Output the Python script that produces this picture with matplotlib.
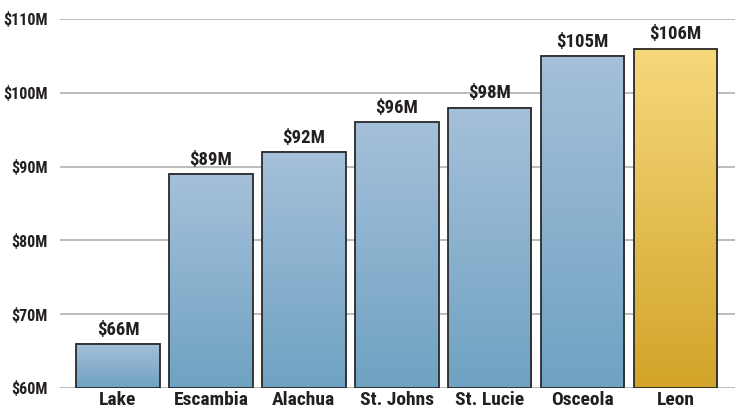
import numpy as np
import matplotlib.pyplot as plt
from matplotlib.colors import LinearSegmentedColormap

# ---------------------------------------------------------------------------
# Data
# ---------------------------------------------------------------------------

counties = ["Lake", "Escambia", "Alachua", "St. Johns", "St. Lucie", "Osceola", "Leon"]
values = [66, 89, 92, 96, 98, 105, 106]        # $ millions
highlight = "Leon"
y_ticks = [60, 70, 80, 90, 100, 110]

# ---------------------------------------------------------------------------
# Style
# ---------------------------------------------------------------------------

plt.rcParams["font.family"] = ["Roboto Condensed", "DejaVu Sans"]
plt.rcParams["font.weight"] = "bold"

TEXT = "#231f20"
blue_cmap = LinearSegmentedColormap.from_list("blue", ["#6fa2c2", "#a5c0da"])
gold_cmap = LinearSegmentedColormap.from_list("gold", ["#d2a429", "#f6d87c"])

fig = plt.figure(figsize=(7.39, 4.15), dpi=100)
ax = fig.add_axes([60 / 739, 27 / 415, 675 / 739, 369 / 415])

ymin, ymax = 60, 110
x = np.arange(len(counties))
width = 0.9

for xi, name, v in zip(x, counties, values):
    cmap = gold_cmap if name == highlight else blue_cmap
    grad = np.linspace(0, 1, 256).reshape(-1, 1)
    ax.imshow(grad, cmap=cmap, origin="lower", aspect="auto",
              extent=[xi - width / 2, xi + width / 2, ymin, v], zorder=2)
    ax.bar(xi, v - ymin, bottom=ymin, width=width, facecolor="none",
           edgecolor="#2a2a2a", linewidth=1.3, zorder=3)
    ax.text(xi, v + 0.7, f"${v}M", ha="center", va="bottom",
            fontsize=13.5, color=TEXT, fontweight="bold")

for t in y_ticks:
    ax.axhline(t, color="#b0b0b0", linewidth=1.2, zorder=1)

ax.set_xlim(-0.624, 6.64)
ax.set_ylim(ymin, ymax)
ax.set_yticks(y_ticks)
ax.set_yticklabels([f"${t}M" for t in y_ticks], fontsize=11.5, color=TEXT, fontweight="bold")
ax.set_xticks(x)
ax.set_xticklabels(counties, fontsize=14, color=TEXT, fontweight="bold")
ax.tick_params(length=0)
ax.tick_params(axis="y", pad=9)
ax.tick_params(axis="x", pad=2)
for s in ax.spines.values():
    s.set_visible(False)

plt.savefig("out.png", dpi=100)
